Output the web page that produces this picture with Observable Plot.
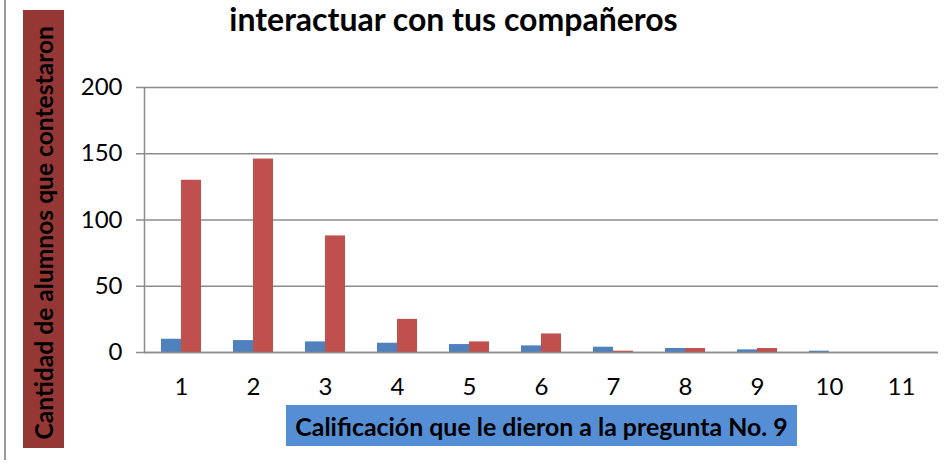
<!DOCTYPE html>
<html>
<head>
<meta charset="utf-8">
<script src="https://cdn.jsdelivr.net/npm/d3@7"></script>
<script src="https://cdn.jsdelivr.net/npm/@observablehq/plot@0.6"></script>
<style>
  html, body { margin: 0; padding: 0; background: #fff; }
  #wrap { position: relative; width: 952px; height: 466px; overflow: hidden; background: #fff; font-family: Lato, "Open Sans", sans-serif; }
  #wrap svg { position: absolute; left: 0; top: 0; }
  #border { position: absolute; left: 4px; top: 0; width: 2px; height: 460px; background: #9a9a9a; }
  #title { position: absolute; left: 0; width: 907px; top: 0px; text-align: center; font-weight: 700; font-size: 32px; line-height: 38px; color: #000; white-space: nowrap; }
  #ylab { position: absolute; left: 23px; top: 10px; width: 41px; height: 438px; background: #953735; display: flex; align-items: center; justify-content: center; }
  #ylab span { writing-mode: vertical-rl; transform: rotate(180deg); font-weight: 700; font-size: 24.6px; line-height: 41px; color: #000; white-space: nowrap; margin-top: 8px; }
  #xlab { position: absolute; left: 286px; top: 405px; width: 511px; height: 41px; background: #558ED5; display: flex; align-items: center; justify-content: center; font-weight: 700; font-size: 24.9px; color: #000; white-space: nowrap; }
</style>
</head>
<body>
<div id="wrap">
  <div id="border"></div>
  <div id="title">interactuar con tus compañeros</div>
  <div id="ylab"><span>Cantidad de alumnos que contestaron</span></div>
  <div id="xlab">Calificación que le dieron a la pregunta No. 9</div>
</div>
<script>
const categories = ["1", "2", "3", "4", "5", "6", "7", "8", "9", "10", "11"];
const seriesBlue = [10, 9, 8, 7, 6, 5, 4, 3, 2, 1, 0];
const seriesRed = [130, 146, 88, 25, 8, 14, 1, 3, 3, 0, 0];
const yTicks = [0, 50, 100, 150, 200];

const blueData = categories.map((c, i) => ({cat: c, v: seriesBlue[i]}));
const redData = categories.map((c, i) => ({cat: c, v: seriesRed[i]}));

const chart = Plot.plot({
  width: 952,
  height: 466,
  marginLeft: 144,
  marginRight: 14,
  marginTop: 87,
  marginBottom: 114,
  style: {fontFamily: "Lato, 'Open Sans', sans-serif", fontSize: "24px", color: "#000", background: "transparent"},
  x: {domain: categories, padding: 0, label: null},
  y: {domain: [0, 200], label: null},
  marks: [
    Plot.gridY(yTicks, {stroke: "#8c8c8c", strokeOpacity: 1, strokeWidth: 1.5}),
    Plot.frame({anchor: "left", stroke: "#8c8c8c", strokeWidth: 1.5}),
    Plot.barY(blueData, {x: "cat", y: "v", fill: "#4F81BD", insetLeft: 16, insetRight: 36}),
    Plot.barY(redData, {x: "cat", y: "v", fill: "#C0504D", insetLeft: 36, insetRight: 16}),
    Plot.ruleY([0], {stroke: "#8c8c8c", strokeWidth: 1.5}),
    Plot.axisY(yTicks, {tickSize: 8, tickPadding: 14, stroke: "#8c8c8c", strokeWidth: 1.5, fill: "#000", fontSize: 24, label: null}),
    Plot.axisX({tickSize: 0, tickPadding: 25, fill: "#000", fontSize: 24, label: null})
  ]
});
document.getElementById("wrap").prepend(chart);
</script>
</body>
</html>
